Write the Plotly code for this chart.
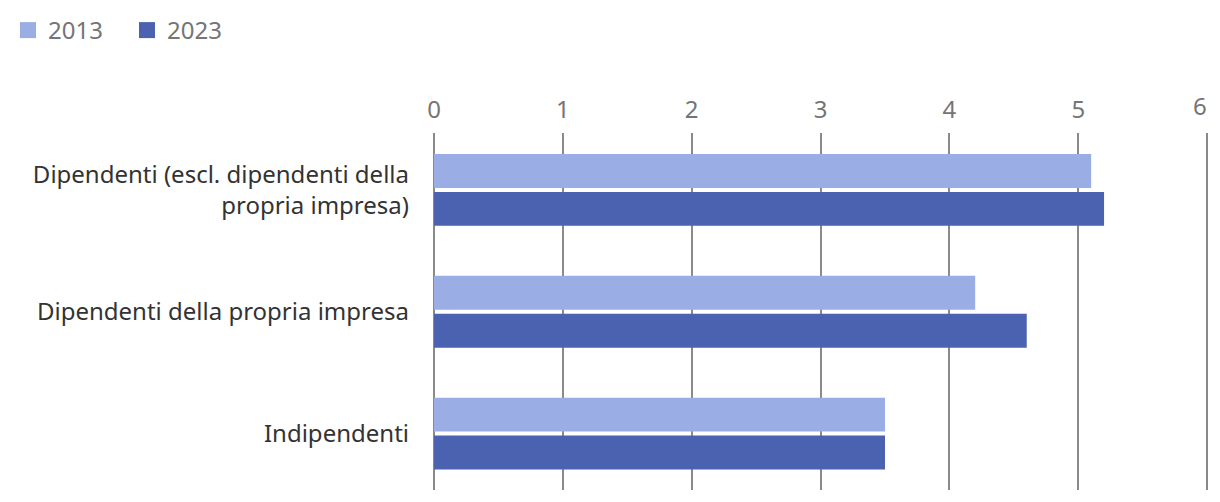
import plotly.graph_objects as go

categories = [
    "Dipendenti (escl. dipendenti della<br>propria impresa)",
    "Dipendenti della propria impresa",
    "Indipendenti",
]
values_2013 = [5.1, 4.2, 3.5]
values_2023 = [5.2, 4.6, 3.5]
series_names = ["2013", "2023"]
colors = ["#9badE5", "#4a62b0"]
x_ticks = [0, 1, 2, 3, 4, 5, 6]

FONT = "Noto Sans"
TICK_COLOR = "#757575"

fig = go.Figure()
for name, vals, col in zip(series_names, [values_2013, values_2023], colors):
    fig.add_trace(go.Bar(
        y=categories, x=vals, name=name, orientation="h",
        marker=dict(color=col, line=dict(width=0)),
        showlegend=False,
    ))
# legend entries with larger square markers
for name, col in zip(series_names, colors):
    fig.add_trace(go.Scatter(
        x=[None], y=[None], mode="markers", name=name,
        marker=dict(symbol="square", size=18, color=col),
        showlegend=True,
    ))

# last tick label is pulled inward so it stays inside the figure
tick_text = [str(t) for t in x_ticks[:-1]] + [""]

fig.update_layout(
    width=1204, height=486,
    margin=dict(l=426, r=1, t=125, b=4),
    paper_bgcolor="white", plot_bgcolor="white",
    barmode="group", bargap=0.377, bargroupgap=0.105,
    font=dict(family=FONT, size=24, color="#333333"),
    legend=dict(
        orientation="h", x=0, y=1, xref="container", yref="container",
        xanchor="left", yanchor="top",
        font=dict(size=24, color=TICK_COLOR),
        itemwidth=30, traceorder="normal",
        entrywidth=74, entrywidthmode="pixels",
    ),
    xaxis=dict(
        side="top", range=[0, 6.03], tickvals=x_ticks, ticktext=tick_text,
        showgrid=True, gridcolor="#8a8a8a", gridwidth=2,
        zeroline=True, zerolinecolor="#8a8a8a", zerolinewidth=2,
        showline=False, ticks="",
        tickfont=dict(family=FONT, size=24, color=TICK_COLOR),
        ticklabelstandoff=9,
    ),
    yaxis=dict(
        type="category", categoryorder="array", categoryarray=categories,
        range=[2.463, -0.467],
        showgrid=False, zeroline=False, showline=False, ticks="",
        tickfont=dict(family=FONT, size=24, color="#333333"),
        ticklabelstandoff=24,
    ),
    annotations=[dict(
        x=x_ticks[-1], xref="x", y=1, yref="paper",
        text=str(x_ticks[-1]), showarrow=False,
        xanchor="center", yanchor="bottom", xshift=-7, yshift=9,
        font=dict(family=FONT, size=24, color=TICK_COLOR),
    )],
)

fig.write_html("out.html")
